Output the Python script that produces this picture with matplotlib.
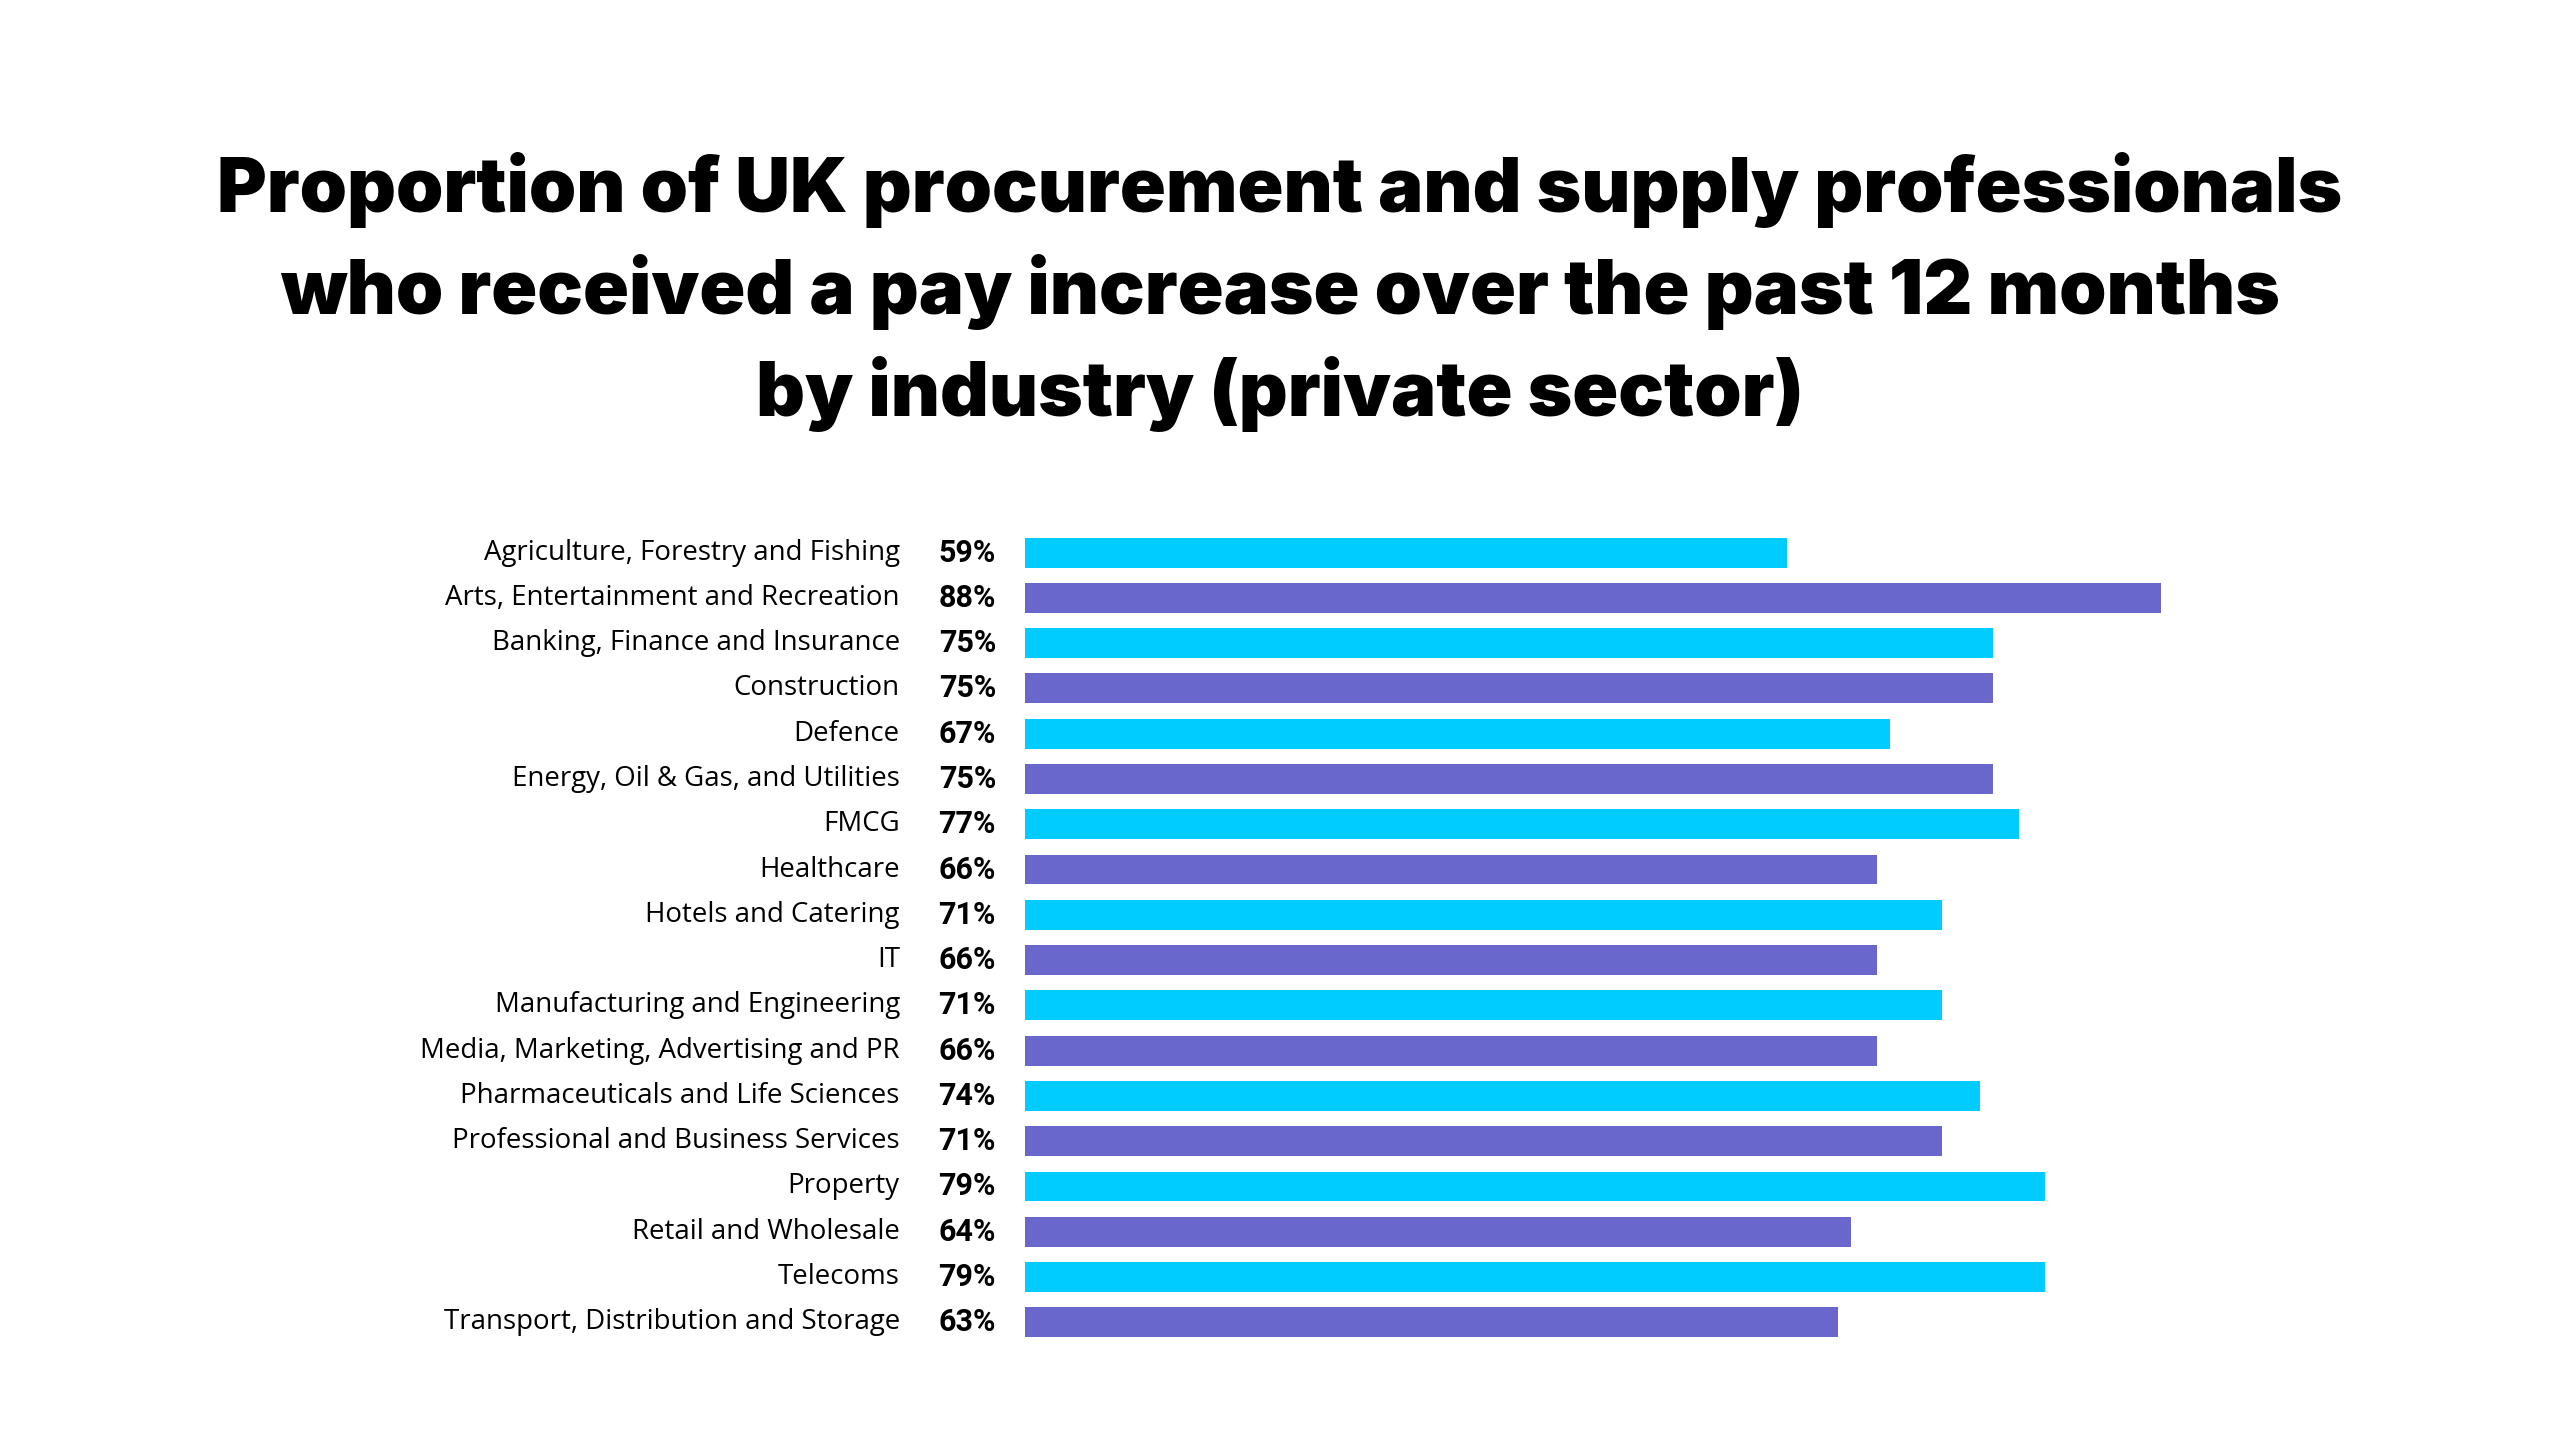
import matplotlib
matplotlib.use("Agg")
import matplotlib.pyplot as plt

industries = [
    "Agriculture, Forestry and Fishing",
    "Arts, Entertainment and Recreation",
    "Banking, Finance and Insurance",
    "Construction",
    "Defence",
    "Energy, Oil & Gas, and Utilities",
    "FMCG",
    "Healthcare",
    "Hotels and Catering",
    "IT",
    "Manufacturing and Engineering",
    "Media, Marketing, Advertising and PR",
    "Pharmaceuticals and Life Sciences",
    "Professional and Business Services",
    "Property",
    "Retail and Wholesale",
    "Telecoms",
    "Transport, Distribution and Storage",
]
pay_increase = [59, 88, 75, 75, 67, 75, 77, 66, 71, 66, 71, 66, 74, 71, 79, 64, 79, 63]

cyan = "#00CCFF"
purple = "#6967CC"
colors = [cyan if i % 2 == 0 else purple for i in range(len(industries))]

fig = plt.figure(figsize=(25.6, 14.4), dpi=100)
fig.patch.set_facecolor("white")

fig.text(0.5, 1 - 292 / 1440,
         "Proportion of UK procurement and supply professionals\n"
         "who received a pay increase over the past 12 months\n"
         "by industry (private sector)",
         ha="center", va="center", fontsize=54.7, fontweight="black",
         family="Inter", linespacing=1.43, color="black")

ax = fig.add_axes([1025 / 2560, 0.066, 1291 / 2560, 0.566])
y = list(range(len(industries)))
ax.barh(y, pay_increase, height=0.66, color=colors)
ax.set_xlim(0, 100)
ax.set_ylim(len(industries) - 0.5, -0.5)
ax.axis("off")

for i, (name, val) in enumerate(zip(industries, pay_increase)):
    ax.text(-9.7, i, name, ha="right", va="center", fontsize=19.9,
            family="Open Sans", color="black", clip_on=False)
    ax.text(-2.25, i, f"{val}%", ha="right", va="center", fontsize=22,
            fontweight="bold", family="Roboto", color="black", clip_on=False)

fig.savefig("out.png", dpi=100, facecolor="white")
